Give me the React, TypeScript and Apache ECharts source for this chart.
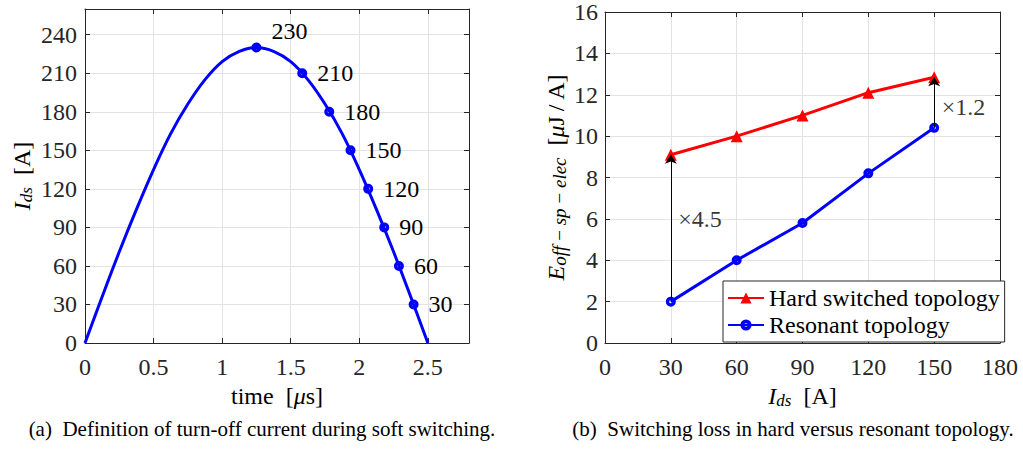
import React, { useEffect, useRef } from "react";
import * as echarts from "echarts";

// ---- Left panel: turn-off current waveform ----
const curveTime = [0, 0.125, 0.25, 0.375, 0.5, 0.625, 0.75, 0.875, 1.0, 1.125, 1.25, 1.375, 1.5, 1.625, 1.75, 1.875, 2.0, 2.125, 2.25, 2.375, 2.5];
const curveCurrent = [0, 36, 71, 104, 135, 163, 186, 205, 219, 227, 230, 227, 219, 205, 186, 163, 135, 104, 71, 36, 0];
const markerTime = [1.25, 1.584, 1.781, 1.936, 2.065, 2.182, 2.289, 2.396];
const markerCurrent = [230, 210, 180, 150, 120, 90, 60, 30];

// ---- Right panel: switching loss ----
const currents = [30, 60, 90, 120, 150];
const hardLoss = [9.1, 10.0, 11.0, 12.1, 12.85];
const resonantLoss = [2.0, 4.0, 5.8, 8.2, 10.4];
const ratioCurrent = [30, 150];
const ratioAnchor = [6.0, 11.4];
const ratioLabels = ["×4.5", "×1.2"];

const seriesNames = ["Hard switched topology", "Resonant topology"];
const captions = [
  "(a)  Definition of turn-off current during soft switching.",
  "(b)  Switching loss in hard versus resonant topology.",
];

const FONT = "Times New Roman";
const AXIS = "#262626";
const GRIDC = "#e3e3e3";
const BLUE = "#0000ff";
const RED = "#ff0000";
// ring marker (MATLAB 'o' with thick edge)
const RING = "path://M0,-10A10,10 0 1,1 0,10A10,10 0 1,1 0,-10Z M0,-3.2A3.2,3.2 0 1,0 0,3.2A3.2,3.2 0 1,0 0,-3.2Z";

const F = (size: number, color: string, italic = false) => ({
  fontFamily: FONT,
  fontSize: size,
  fontStyle: italic ? "italic" : "normal",
  fontWeight: "normal",
  color,
});

function axis(
  gridIndex: number,
  position: string,
  min: number,
  max: number,
  interval: number,
  main: boolean,
  margin: number,
  hideMax: boolean,
  extra: any = {}
) {
  return {
    type: "value",
    gridIndex,
    position,
    min,
    max,
    interval,
    axisLine: { show: true, onZero: false, lineStyle: { color: AXIS, width: 1 } },
    axisTick: { show: true, inside: true, length: 5, lineStyle: { color: AXIS, width: 1 } },
    axisLabel: main
      ? {
          show: true,
          ...F(24, AXIS),
          margin,
          showMaxLabel: !hideMax,
          formatter: (v: number) =>
            Math.abs(v / interval - Math.round(v / interval)) < 1e-6 ? String(v) : "",
        }
      : { show: false },
    splitLine: main ? { show: true, lineStyle: { color: GRIDC, width: 1 } } : { show: false },
    ...extra,
  };
}

const subRich = {
  i: { ...F(24, "#000", true), lineHeight: 26 },
  s: { ...F(17, "#000", true), verticalAlign: "bottom", lineHeight: 14 },
  b: { ...F(19, "#000", true), verticalAlign: "bottom", lineHeight: 15 },
  a: { ...F(24, "#000"), lineHeight: 26 },
  m: { ...F(24, "#000", true), lineHeight: 26 },
};

export default function App() {
  const ref = useRef<HTMLDivElement>(null);
  useEffect(() => {
    if (!ref.current) return;
    const chart = echarts.init(ref.current, undefined, { renderer: "svg" });

    const option: any = {
      animation: false,
      backgroundColor: "#ffffff",
      textStyle: { fontFamily: FONT, fontWeight: "normal", fontStyle: "normal" },
      grid: [
        { left: 85, top: 9, width: 384, height: 334, containLabel: false },
        { left: 605, top: 9, width: 395, height: 334, containLabel: false },
      ],
      xAxis: [
        axis(0, "bottom", 0, 2.8, 0.5, true, 12, true, {
          name: "{a|time  [}{m|μ}{a|s]}",
          nameLocation: "middle",
          nameGap: 40,
          nameTextStyle: { ...F(24, "#000"), rich: subRich },
        }),
        axis(0, "top", 0, 2.8, 0.5, false, 0, true),
        axis(1, "bottom", 0, 180, 30, true, 12, false, {
          name: "{i|I}{s|ds}{a|  [A]}",
          nameLocation: "middle",
          nameGap: 38,
          nameTextStyle: { ...F(24, "#000"), rich: subRich },
        }),
        axis(1, "top", 0, 180, 30, false, 0, false),
      ],
      yAxis: [
        axis(0, "left", 0, 260, 30, true, 8, true, {
          name: "{i|I}{s|ds}{a|  [A]}",
          nameRotate: 90,
          nameLocation: "middle",
          nameGap: 50,
          nameTextStyle: { ...F(24, "#000"), rich: subRich },
        }),
        axis(0, "right", 0, 260, 30, false, 0, true),
        axis(1, "left", 0, 16, 2, true, 7, false, {
          name: "{i|E}{b|off\u2009−\u2009sp\u2009−\u2009elec}{a|  [}{m|μ}{a|J\u2009/\u2009A]}",
          nameRotate: 90,
          nameLocation: "middle",
          nameGap: 36,
          nameTextStyle: { ...F(24, "#000"), rich: subRich },
        }),
        axis(1, "right", 0, 16, 2, false, 0, false),
      ],
      legend: {
        data: seriesNames,
        orient: "vertical",
        left: 723,
        top: 281,
        itemWidth: 36,
        itemHeight: 14,
        itemGap: 3,
        padding: [5, 5, 5, 4],
        borderColor: AXIS,
        borderWidth: 1,
        borderRadius: 0,
        backgroundColor: "#ffffff",
        textStyle: F(24, "#000"),
        selectedMode: false,
      },
      series: [
        {
          type: "line",
          name: "curve",
          xAxisIndex: 0,
          yAxisIndex: 0,
          data: curveTime.map((t, i) => [t, curveCurrent[i]]),
          smooth: 0.4,
          showSymbol: false,
          lineStyle: { color: BLUE, width: 3 },
          silent: true,
        },
        {
          type: "scatter",
          name: "markers",
          xAxisIndex: 0,
          yAxisIndex: 0,
          data: markerTime.map((t, i) => [t, markerCurrent[i]]),
          symbol: RING,
          symbolSize: 10,
          itemStyle: { color: BLUE, opacity: 1 },
          z: 5,
          label: {
            show: true,
            position: "right",
            distance: 10,
            offset: [0, -2],
            ...F(24, "#000"),
            formatter: (p: any) => String(p.value[1]),
          },
          labelLayout: (p: any) => (p.dataIndex === 0 ? { dx: 0, dy: -17 } : {}),
          silent: true,
        },
        {
          type: "line",
          name: seriesNames[0],
          xAxisIndex: 2,
          yAxisIndex: 2,
          data: currents.map((c, i) => [c, hardLoss[i]]),
          symbol: "triangle",
          symbolSize: 12,
          showAllSymbol: true,
          lineStyle: { color: RED, width: 3 },
          itemStyle: { color: RED },
          z: 4,
        },
        {
          type: "line",
          name: seriesNames[1],
          xAxisIndex: 2,
          yAxisIndex: 2,
          data: currents.map((c, i) => [c, resonantLoss[i]]),
          symbol: RING,
          symbolSize: 10,
          showAllSymbol: true,
          lineStyle: { color: BLUE, width: 3 },
          itemStyle: { color: BLUE },
          z: 4,
        },
        {
          type: "scatter",
          name: "ratio",
          xAxisIndex: 2,
          yAxisIndex: 2,
          data: ratioCurrent.map((c, i) => [c, ratioAnchor[i]]),
          symbolSize: 1,
          itemStyle: { color: "rgba(0,0,0,0)" },
          label: {
            show: true,
            position: "right",
            distance: 7,
            ...F(24, "#000"),
            formatter: (p: any) => ratioLabels[p.dataIndex],
          },
          z: 3,
          silent: true,
          markLine: {
            silent: true,
            symbol: ["none", "arrow"],
            symbolSize: 9,
            label: { show: false },
            lineStyle: { color: "#000", width: 1, type: "solid" },
            emphasis: { disabled: true },
            data: ratioCurrent.map((c) => {
              const k = currents.indexOf(c);
              return [{ coord: [c, resonantLoss[k]] }, { coord: [c, hardLoss[k]] }];
            }),
          },
        },
      ],
      graphic: [
        {
          type: "text",
          x: 262,
          y: 429,
          style: { text: captions[0], fontFamily: FONT, fontSize: 21, fontWeight: "normal", fontStyle: "normal", fill: "#000", textAlign: "center", textVerticalAlign: "middle" },
        },
        {
          type: "text",
          x: 793,
          y: 429,
          style: { text: captions[1], fontFamily: FONT, fontSize: 21, fontWeight: "normal", fontStyle: "normal", fill: "#000", textAlign: "center", textVerticalAlign: "middle" },
        },
      ],
    };

    chart.setOption(option);
    return () => chart.dispose();
  }, []);

  return (
    <div
      ref={ref}
      style={{ position: "fixed", left: 0, top: 0, width: 1023, height: 450, background: "#fff" }}
    />
  );
}
